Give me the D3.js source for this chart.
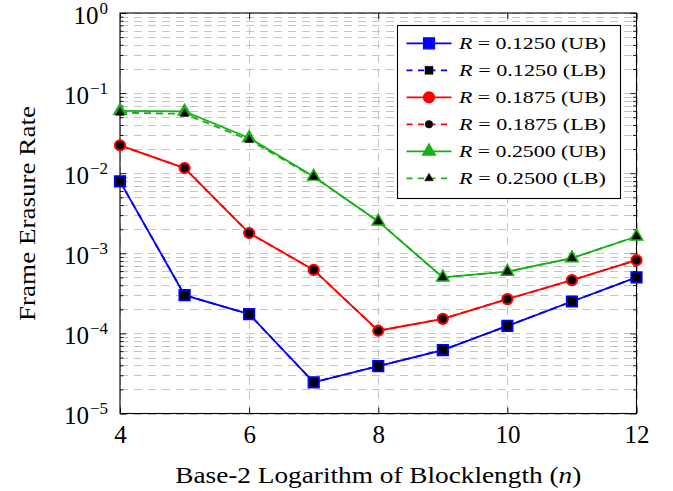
<!DOCTYPE html>
<html><head><meta charset="utf-8">
<script src="https://cdn.jsdelivr.net/npm/d3@7"></script>
<style>
body{margin:0;background:#fff;}
svg{display:block;font-family:"Liberation Serif","Times New Roman",serif;}
</style></head>
<body><svg id="c" width="673" height="491"></svg>
<script>
// ---- data ----
const xValues = [4, 5, 6, 7, 8, 9, 10, 11, 12];
const r1250UB = [7.9e-3, 3.0e-4, 1.74e-4, 2.45e-5, 3.9e-5, 6.2e-5, 1.24e-4, 2.5e-4, 5.0e-4];
const r1250LB = [7.9e-3, 3.0e-4, 1.74e-4, 2.45e-5, 3.9e-5, 6.2e-5, 1.24e-4, 2.5e-4, 5.0e-4];
const r1875UB = [2.23e-2, 1.16e-2, 1.79e-3, 6.2e-4, 1.08e-4, 1.52e-4, 2.68e-4, 4.62e-4, 8.2e-4];
const r1875LB = [2.23e-2, 1.16e-2, 1.79e-3, 6.2e-4, 1.08e-4, 1.52e-4, 2.68e-4, 4.62e-4, 8.2e-4];
const r2500UB = [6.0e-2, 5.9e-2, 2.75e-2, 9.1e-3, 2.5e-3, 5.0e-4, 5.9e-4, 8.7e-4, 1.62e-3];
const r2500LB = [5.7e-2, 5.5e-2, 2.6e-2, 9.0e-3, 2.5e-3, 5.0e-4, 5.9e-4, 8.7e-4, 1.62e-3];
const rateLabels = ["0.1250", "0.1250", "0.1875", "0.1875", "0.2500", "0.2500"];
const boundLabels = ["UB", "LB", "UB", "LB", "UB", "LB"];
const xTickValues = [4, 6, 8, 10, 12];
const yMajorExponents = [0, -1, -2, -3, -4, -5];
const xAxisTitle = "Base-2 Logarithm of Blocklength (";
const yAxisTitle = "Frame Erasure Rate";

// ---- styles ----
const colors = {blue: "#0000ff", red: "#ff0000", green: "#17b017"};
const series = [
  {vals: r1250UB, color: colors.blue, dash: null, mark: "square", fill: colors.blue, ub: true},
  {vals: r1250LB, color: colors.blue, dash: "7,5", mark: "square", fill: "#000", ub: false},
  {vals: r1875UB, color: colors.red, dash: null, mark: "circle", fill: colors.red, ub: true},
  {vals: r1875LB, color: colors.red, dash: "7,5", mark: "circle", fill: "#000", ub: false},
  {vals: r2500UB, color: colors.green, dash: null, mark: "triangle", fill: colors.green, ub: true},
  {vals: r2500LB, color: colors.green, dash: "7,5", mark: "triangle", fill: "#000", ub: false}
];

const L = 120, R = 636.5, T = 13, B = 413.5;
const svg = d3.select("#c");
const x = d3.scaleLinear().domain([4, 12]).range([L, R]);
const y = d3.scaleLog().domain([1e-5, 1]).range([B, T]);

const yAll = y.ticks();
const isMajor = v => Math.abs(Math.log10(v) - Math.round(Math.log10(v))) < 1e-9;

// grid
const grid = svg.append("g").attr("stroke", "#c4c4c4").attr("stroke-width", 1).attr("stroke-dasharray", "8,6");
yAll.forEach(v => {
  const yy = Math.round(y(v)) + 0.5;
  grid.append("line").attr("x1", L).attr("x2", R).attr("y1", yy).attr("y2", yy);
});
xTickValues.forEach(v => {
  const xx = Math.round(x(v)) + 0.5;
  grid.append("line").attr("x1", xx).attr("x2", xx).attr("y1", T).attr("y2", B);
});

// axes via d3 axes (inward ticks)
const axB = svg.append("g").attr("transform", `translate(0,${B})`)
  .call(d3.axisBottom(x).tickValues(xTickValues).tickSizeInner(-6).tickSizeOuter(0).tickPadding(11.5).tickFormat(d3.format("d")));
const axT = svg.append("g").attr("transform", `translate(0,${T})`)
  .call(d3.axisTop(x).tickValues(xTickValues).tickSizeInner(-6).tickSizeOuter(0).tickFormat(""));
const axL = svg.append("g").attr("transform", `translate(${L},0)`)
  .call(d3.axisLeft(y).tickValues(yAll).tickSizeOuter(0).tickFormat(""));
const axR = svg.append("g").attr("transform", `translate(${R},0)`)
  .call(d3.axisRight(y).tickValues(yAll).tickSizeOuter(0).tickFormat(""));
[axB, axT, axL, axR].forEach(a => { a.select(".domain").remove(); a.selectAll("line").attr("stroke", "#000").attr("stroke-width", 0.9); });
axL.selectAll(".tick line").attr("x2", d => isMajor(d) ? 6 : 3.5);
axR.selectAll(".tick line").attr("x2", d => isMajor(d) ? -6 : -3.5);
axB.selectAll("text").attr("font-size", 25).attr("fill", "#000")
  .attr("font-family", "Liberation Serif, serif");

// y labels
yMajorExponents.forEach(e => {
  const t = svg.append("text").attr("x", 108).attr("y", y(Math.pow(10, e)) + 10.5)
    .attr("text-anchor", "end").attr("font-size", 25).attr("fill", "#000");
  t.append("tspan").text("10");
  t.append("tspan").attr("dy", -10).attr("dx", 1).attr("font-size", 17).text(e === 0 ? "0" : "\u2212" + Math.abs(e));
});

// frame
svg.append("rect").attr("x", L).attr("y", T).attr("width", R - L).attr("height", B - T)
  .attr("fill", "none").attr("stroke", "#000").attr("stroke-width", 1.1);

// markers
function markPath(kind, big) {
  if (kind === "square") { const s = big ? 5.5 : 4; return `M${-s},${-s}H${s}V${s}H${-s}Z`; }
  if (kind === "circle") { const r = big ? 5.5 : 3.8; return `M${r},0A${r},${r} 0 1,1 ${-r},0A${r},${r} 0 1,1 ${r},0Z`; }
  const r = big ? 7.5 : 5;
  const a = r * Math.sqrt(3) / 2;
  return `M0,${-r}L${a},${r / 2}L${-a},${r / 2}Z`;
}

const line = d3.line().x((d, i) => x(xValues[i])).y(d => y(d));
const plot = svg.append("g");
series.forEach(s => {
  plot.append("path").datum(s.vals).attr("d", line).attr("fill", "none")
    .attr("stroke", s.color).attr("stroke-width", 1.8).attr("stroke-dasharray", s.dash);
  plot.selectAll(null).data(s.vals).enter().append("path")
    .attr("transform", (d, i) => `translate(${x(xValues[i])},${y(d)})`)
    .attr("d", markPath(s.mark, s.ub)).attr("fill", s.fill)
    .attr("stroke", s.ub ? s.color : "#000").attr("stroke-width", s.ub ? 1.2 : 0.5);
});

// legend
const lg = svg.append("g");
lg.append("rect").attr("x", 397.5).attr("y", 25.5).attr("width", 223).attr("height", 173)
  .attr("fill", "#fff").attr("stroke", "#000").attr("stroke-width", 1.1);
series.forEach((s, i) => {
  const yy = 43.3 + i * 27;
  lg.append("line").attr("x1", 406.5).attr("x2", 451.5).attr("y1", yy).attr("y2", yy)
    .attr("stroke", s.color).attr("stroke-width", 1.8).attr("stroke-dasharray", s.dash ? "6,5.5" : null);
  lg.append("path").attr("transform", `translate(429,${yy})`).attr("d", markPath(s.mark, s.ub))
    .attr("fill", s.fill).attr("stroke", s.ub ? s.color : "#000").attr("stroke-width", s.ub ? 1.2 : 0.5);
  const t = lg.append("text").attr("x", 459).attr("y", yy + 5.5).attr("font-size", 17.5).attr("fill", "#000")
    .attr("textLength", 147).attr("lengthAdjust", "spacingAndGlyphs");
  t.append("tspan").attr("font-style", "italic").text("R");
  t.append("tspan").text(" = " + rateLabels[i] + " (" + boundLabels[i] + ")");
});

// axis titles
const xt = svg.append("text").attr("x", (L + R) / 2).attr("y", 482.5).attr("text-anchor", "middle")
  .attr("font-size", 23).attr("fill", "#000").attr("textLength", 406).attr("lengthAdjust", "spacingAndGlyphs");
xt.append("tspan").text(xAxisTitle);
xt.append("tspan").attr("font-style", "italic").text("n");
xt.append("tspan").text(")");
svg.append("text").attr("transform", `translate(35,213.5) rotate(-90)`).attr("text-anchor", "middle")
  .attr("font-size", 23).attr("fill", "#000").attr("textLength", 215).attr("lengthAdjust", "spacingAndGlyphs")
  .text(yAxisTitle);
</script></body></html>
